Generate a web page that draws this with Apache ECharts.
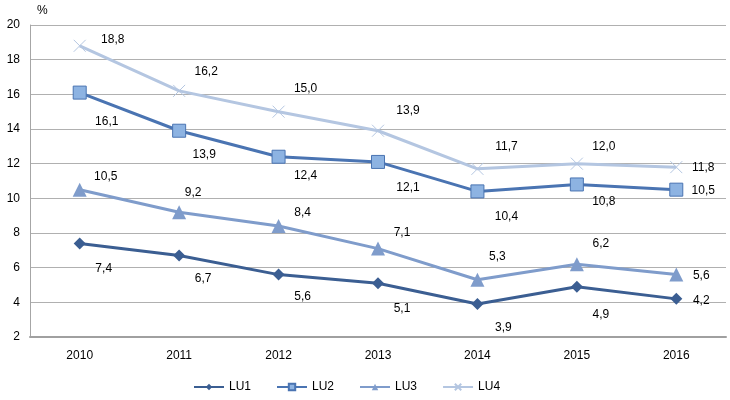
<!DOCTYPE html>
<html>
<head>
<meta charset="utf-8">
<script src="https://cdn.jsdelivr.net/npm/echarts@6/dist/echarts.min.js"></script>
<style>html,body{margin:0;padding:0;background:#fff}#c{width:730px;height:400px}</style>
</head>
<body>
<div id="c"></div>
<script>
var categories = ['2010','2011','2012','2013','2014','2015','2016'];
var seriesNames = ['LU1','LU2','LU3','LU4'];
var lu1 = [7.4, 6.7, 5.6, 5.1, 3.9, 4.9, 4.2];
var lu2 = [16.1, 13.9, 12.4, 12.1, 10.4, 10.8, 10.5];
var lu3 = [10.5, 9.2, 8.4, 7.1, 5.3, 6.2, 5.6];
var lu4 = [18.8, 16.2, 15.0, 13.9, 11.7, 12.0, 11.8];

// label offsets (style)
var off1 = [[24,25],[24,23],[24,22],[24,25],[26,24],[24,28],[25,2]];
var off2 = [[27,29],[25,24],[27,19],[30,26],[29,25],[27,17],[27,1]];
var off3 = [[26,-13],[14,-20],[24,-13],[24,-16],[20,-23],[24,-21],[25,1]];
var off4 = [[33,-6],[27,-19],[27,-23],[30,-20],[29,-22],[27,-17],[27,1]];

function mk(vals, offs) {
  return vals.map(function(v, i){
    return {value: v, label: {offset: offs[i]}};
  });
}
var fmt = function(p){ return p.value.toFixed(1).replace('.', ','); };
var labelBase = {show: true, position: 'inside', color: '#000', fontSize: 12,
  fontFamily: 'Liberation Sans, Arial, sans-serif', formatter: fmt};

var chart = echarts.init(document.getElementById('c'));
chart.setOption({
  animation: false,
  textStyle: {fontFamily: 'Liberation Sans, Arial, sans-serif'},
  grid: {left: 30, right: 4, top: 25, bottom: 63},
  legend: {
    bottom: 7, left: 193, padding: 0, itemWidth: 30, itemHeight: 8, itemGap: 25,
    textStyle: {fontSize: 12, color: '#000'},
    data: seriesNames
  },
  xAxis: {
    type: 'category', data: categories, boundaryGap: true,
    axisLine: {lineStyle: {color: '#A0A0A0', width: 2}},
    axisTick: {show: false},
    axisLabel: {color: '#000', fontSize: 12, margin: 13}
  },
  yAxis: {
    type: 'value', min: 2, max: 20, interval: 2,
    name: '%', nameLocation: 'end', nameGap: 8,
    nameTextStyle: {color: '#000', fontSize: 12, align: 'left', padding: [0,0,0,7]},
    axisLine: {show: true, lineStyle: {color: '#A6A6A6', width: 1}},
    axisTick: {show: false},
    axisLabel: {color: '#000', fontSize: 12, margin: 10},
    splitLine: {lineStyle: {color: '#B0B0B0', width: 1}}
  },
  series: [
    {name: 'LU1', type: 'line', data: mk(lu1, off1), symbol: 'diamond', symbolSize: 12,
     lineStyle: {color: '#3B5E92', width: 3}, itemStyle: {color: '#3B5E92'}, label: labelBase, z: 4},
    {name: 'LU2', type: 'line', data: mk(lu2, off2), symbol: 'rect', symbolSize: 13,
     lineStyle: {color: '#4A74B2', width: 3}, itemStyle: {color: '#8DB3E2', borderColor: '#4A74B2', borderWidth: 1}, label: labelBase, z: 3},
    {name: 'LU3', type: 'line', data: mk(lu3, off3), symbol: 'triangle', symbolSize: 14,
     lineStyle: {color: '#7F9CCB', width: 3}, itemStyle: {color: '#7F9CCB'}, label: labelBase, z: 2},
    {name: 'LU4', type: 'line', data: mk(lu4, off4), symbol: 'path://M0,0L10,10M10,0L0,10', symbolSize: 12,
     lineStyle: {color: '#B4C6E1', width: 3}, itemStyle: {color: '#B4C6E1', borderColor: '#B4C6E1', borderWidth: 1}, label: labelBase, z: 1}
  ]
});
</script>
</body>
</html>
